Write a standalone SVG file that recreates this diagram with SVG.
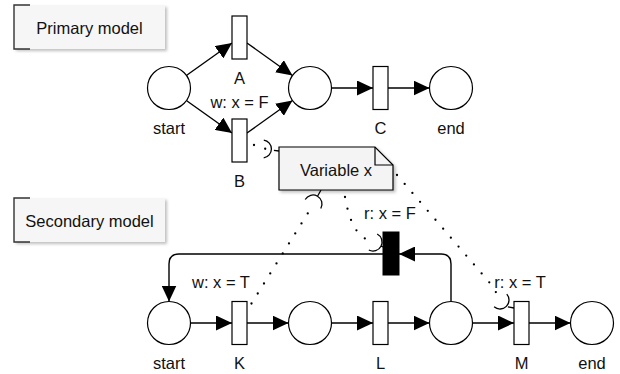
<svg xmlns="http://www.w3.org/2000/svg" width="620" height="374" viewBox="0 0 620 374">
  <defs>
    <marker id="arrow" markerUnits="userSpaceOnUse" markerWidth="17" markerHeight="15" refX="16" refY="7.5" orient="auto">
      <path d="M0,0 L16,7.5 L0,15 Z" fill="#000"/>
    </marker>
    <filter id="shadow" x="-10%" y="-20%" width="130%" height="160%">
      <feDropShadow dx="2" dy="2" stdDeviation="1.6" flood-color="#000" flood-opacity="0.25"/>
    </filter>
  </defs>
  <style>
    text { font-family: "Liberation Sans", Arial, sans-serif; font-size: 16.5px; fill: #111; }
    .place { fill: #fff; stroke: #000; stroke-width: 1.2; }
    .trans { fill: #fff; stroke: #000; stroke-width: 1.2; }
    .silent { fill: #000; stroke: #000; stroke-width: 1; }
    .flow { fill: none; stroke: #000; stroke-width: 1.4; marker-end: url(#arrow); }
    .assoc { fill: none; stroke: #000; stroke-width: 2.3; stroke-linecap: round; stroke-dasharray: 0 11.8; }
    .socket { fill: none; stroke: #000; stroke-width: 1.3; }
    .frame { fill: #f6f6f6; filter: url(#shadow); }
    .bracket { fill: none; stroke: #333; stroke-width: 1.4; }
    .note { fill: #f4f4f4; stroke: #000; stroke-width: 1.2; filter: url(#shadow); }
    .fold { fill: none; stroke: #000; stroke-width: 1.2; }
  </style>

  <!-- model titles -->
  <g id="primary-title">
    <rect class="frame" x="14" y="5" width="151" height="44"/>
    <path class="bracket" d="M30,5 H14 V49 H30"/>
    <text x="89.5" y="34.3" text-anchor="middle">Primary model</text>
  </g>
  <g id="secondary-title">
    <rect class="frame" x="14" y="198" width="151" height="44"/>
    <path class="bracket" d="M30,198 H14 V242 H30"/>
    <text x="89.5" y="227" text-anchor="middle">Secondary model</text>
  </g>

  <!-- connectors -->
  <g id="connectors">
    <!-- primary net -->
    <path class="flow" d="M186.7,75.3 L232,43"/>
    <path class="flow" d="M247,43 L292.5,75.5"/>
    <path class="flow" d="M186.7,100.7 L232,133"/>
    <path class="flow" d="M247,133 L292.5,100.5"/>
    <path class="flow" d="M331.5,88 L373,88"/>
    <path class="flow" d="M388,88 L429.5,88"/>
    <!-- secondary net -->
    <path class="flow" d="M190.5,323 L232,323"/>
    <path class="flow" d="M247,323 L288.5,323"/>
    <path class="flow" d="M331.5,323 L373,323"/>
    <path class="flow" d="M388,323 L429.5,323"/>
    <path class="flow" d="M472.5,323 L514,323"/>
    <path class="flow" d="M529,323 L570.5,323"/>
    <path class="flow" d="M451,301.5 V264 Q451,254 441,254 H399"/>
    <path class="flow" d="M383,254 H179 Q169,254 169,264 V301.5"/>

    <!-- variable associations: dotted link ending in a socket arc -->
    <path class="assoc" d="M254,145 L266,149"/>
    <path class="socket" d="M263.8,140.1 A9,9 0 0 1 263.7,157.9 M273.9,150.3 L279,151"/>

    <path class="assoc" d="M251.5,303.5 L313,205"/>
    <path class="socket" d="M305.2,199.5 A9,9 0 0 1 320.8,208.5 M317.5,196.2 L321,190"/>

    <path class="assoc" d="M345,197 C350,225 358,238 373,242"/>
    <path class="socket" d="M377.2,234 A9,9 0 0 1 368.8,250 M381,246.2 L383,247"/>

    <path class="assoc" d="M397,175 L489,282 Q495,290 501,301"/>
    <path class="socket" d="M506.8,294.1 A9,9 0 0 1 494.1,306.8 M507.9,306.8 L514,308"/>
  </g>

  <!-- primary model -->
  <g id="p-start">
    <circle class="place" cx="169" cy="88" r="21.5"/>
    <text x="169" y="134" text-anchor="middle">start</text>
  </g>
  <g id="t-A">
    <rect class="trans" x="232" y="16" width="15" height="43"/>
    <text x="239.5" y="84" text-anchor="middle">A</text>
  </g>
  <g id="t-B">
    <rect class="trans" x="232" y="119" width="15" height="43"/>
    <text x="239.5" y="107.5" text-anchor="middle">w: x = F</text>
    <text x="239.5" y="187" text-anchor="middle">B</text>
  </g>
  <g id="p-mid">
    <circle class="place" cx="310" cy="88" r="21.5"/>
  </g>
  <g id="t-C">
    <rect class="trans" x="373" y="66.5" width="15" height="43"/>
    <text x="380.5" y="134" text-anchor="middle">C</text>
  </g>
  <g id="p-end">
    <circle class="place" cx="451" cy="88" r="21.5"/>
    <text x="451" y="134" text-anchor="middle">end</text>
  </g>

  <!-- shared variable -->
  <g id="variable-x">
    <path class="note" d="M279,147 H375 L393,165 V190 H279 Z"/>
    <path class="fold" d="M375,147 V165 H393"/>
    <text x="336" y="176" text-anchor="middle">Variable x</text>
  </g>

  <!-- secondary model -->
  <g id="s-start">
    <circle class="place" cx="169" cy="323" r="21.5"/>
    <text x="169" y="369" text-anchor="middle">start</text>
  </g>
  <g id="t-K">
    <rect class="trans" x="232" y="301.5" width="15" height="43"/>
    <text x="221" y="288" text-anchor="middle">w: x = T</text>
    <text x="239.5" y="369" text-anchor="middle">K</text>
  </g>
  <g id="s-p1">
    <circle class="place" cx="310" cy="323" r="21.5"/>
  </g>
  <g id="t-L">
    <rect class="trans" x="373" y="301.5" width="15" height="43"/>
    <text x="380.5" y="369" text-anchor="middle">L</text>
  </g>
  <g id="s-p2">
    <circle class="place" cx="451" cy="323" r="21.5"/>
  </g>
  <g id="t-reset">
    <rect class="silent" x="383" y="232" width="16" height="43"/>
    <text x="390" y="219" text-anchor="middle">r: x = F</text>
  </g>
  <g id="t-M">
    <rect class="trans" x="514" y="301.5" width="15" height="43"/>
    <text x="520" y="288" text-anchor="middle">r: x = T</text>
    <text x="521.5" y="369" text-anchor="middle">M</text>
  </g>
  <g id="s-end">
    <circle class="place" cx="592" cy="323" r="21.5"/>
    <text x="592" y="369" text-anchor="middle">end</text>
  </g>
</svg>
